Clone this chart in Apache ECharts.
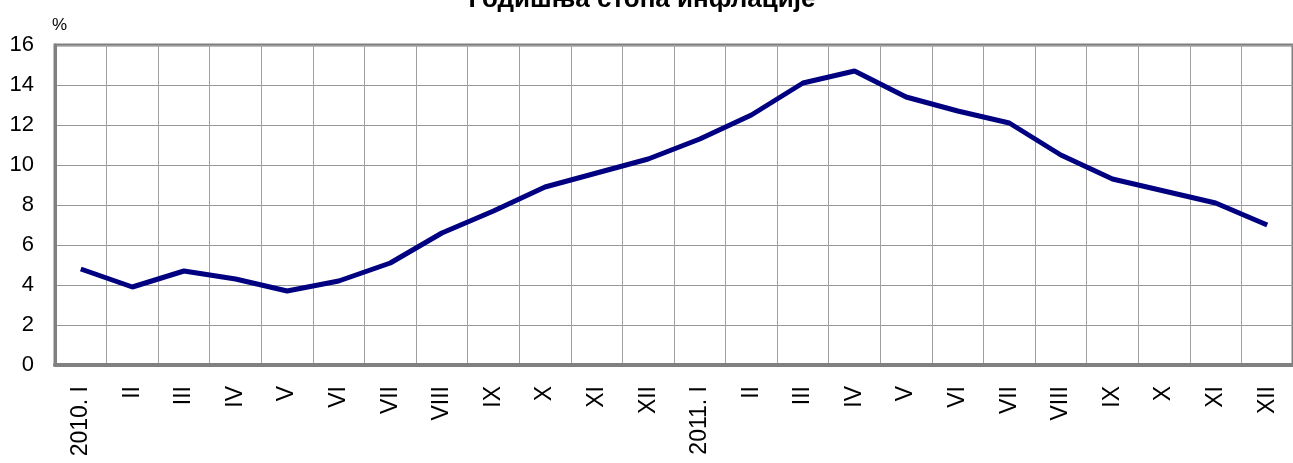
<!DOCTYPE html>
<html>
<head>
<meta charset="utf-8">
<script src="https://cdn.jsdelivr.net/npm/echarts@6/dist/echarts.min.js"></script>
<style>
html,body{margin:0;padding:0;background:#fff;}
#chart{width:1293px;height:463px;}
</style>
</head>
<body>
<div id="chart"></div>
<script>
const titleText = 'Годишња стопа инфлације';
const unitLabel = '%';
const categories = ['2010. I','II','III','IV','V','VI','VII','VIII','IX','X','XI','XII',
                    '2011. I','II','III','IV','V','VI','VII','VIII','IX','X','XI','XII'];
const inflation = [4.8, 3.9, 4.7, 4.3, 3.7, 4.2, 5.1, 6.6, 7.7, 8.9, 9.6, 10.3,
                   11.3, 12.5, 14.1, 14.7, 13.4, 12.7, 12.1, 10.5, 9.3, 8.7, 8.1, 7.0];
const yMin = 0, yMax = 16, yStep = 2;

const chart = echarts.init(document.getElementById('chart'), null, {renderer:'canvas'});
const font = '"Liberation Sans", Arial, sans-serif';
chart.setOption({
  animation: false,
  backgroundColor: '#ffffff',
  grid: {left: 55, top: 45, width: 1240, height: 320, show: true,
         borderColor: '#808080', borderWidth: 3, backgroundColor: 'transparent'},
  graphic: [
    {type:'text', x: 642, y: 13, style:{text: titleText, font: 'bold 26px ' + font, fill:'#000', align:'center', verticalAlign:'bottom'}},
    {type:'text', x: 52, y: 17, style:{text: unitLabel, font: '17px ' + font, fill:'#000'}}
  ],
  xAxis: {
    type: 'category',
    data: categories,
    boundaryGap: true,
    axisLine: {show: true, lineStyle: {color: '#808080', width: 4}},
    axisTick: {show: false},
    splitLine: {show: true, lineStyle: {color: '#a0a0a0', width: 1}},
    axisLabel: {rotate: 90, margin: 21, fontSize: 23, fontFamily: font, color: '#000', interval: 0}
  },
  yAxis: {
    type: 'value',
    min: yMin, max: yMax, interval: yStep,
    axisLine: {show: true, lineStyle: {color: '#808080', width: 3}},
    axisTick: {show: false},
    splitLine: {show: true, lineStyle: {color: '#999999', width: 1}},
    axisLabel: {margin: 21, fontSize: 22, fontFamily: font, color: '#000'}
  },
  series: [{
    type: 'line',
    data: inflation,
    showSymbol: false,
    symbol: 'none',
    lineStyle: {color: '#000080', width: 5},
    z: 5
  }]
});
</script>
</body>
</html>
